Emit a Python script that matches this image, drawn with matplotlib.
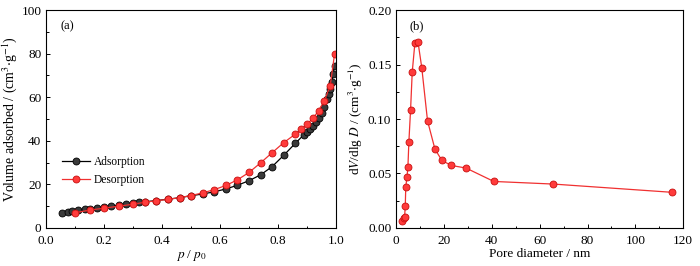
import numpy as np
import matplotlib
matplotlib.use("Agg")
import matplotlib.pyplot as plt
from matplotlib.ticker import MultipleLocator

plt.rcParams['font.family'] = ['Liberation Serif', 'DejaVu Serif']
plt.rcParams['mathtext.fontset'] = 'stix'

# ---- (a) N2 isotherm ----
ads_p = [0.055, 0.075, 0.09, 0.11, 0.135, 0.15, 0.175, 0.2, 0.225, 0.25, 0.275,
         0.3, 0.32, 0.34, 0.38, 0.42, 0.46, 0.5, 0.54, 0.58, 0.62, 0.66, 0.7,
         0.74, 0.78, 0.82, 0.86, 0.89, 0.9, 0.91, 0.92, 0.93, 0.94, 0.95, 0.96,
         0.97, 0.975, 0.98, 0.985, 0.99, 0.995]
ads_v = [6.9, 7.3, 7.7, 8.2, 8.6, 8.9, 9.3, 9.7, 10.1, 10.5, 10.9,
         11.3, 11.7, 12.0, 12.6, 13.2, 13.9, 14.8, 15.6, 16.6, 17.9, 19.6, 21.7,
         24.4, 28.2, 33.4, 38.9, 42.9, 44.0, 45.3, 46.8, 48.5, 50.5, 52.8, 55.5,
         59.0, 61.5, 64.0, 67.0, 70.5, 74.5]
des_p = [0.1, 0.15, 0.2, 0.25, 0.3, 0.34, 0.38, 0.42, 0.46, 0.5, 0.54, 0.58,
         0.62, 0.66, 0.7, 0.74, 0.78, 0.82, 0.86, 0.88, 0.9, 0.92, 0.94, 0.96,
         0.98, 0.995]
des_v = [7.0, 8.2, 9.1, 10.0, 10.9, 11.8, 12.5, 13.1, 13.9, 14.9, 16.1, 17.6,
         19.5, 22.1, 25.5, 29.9, 34.6, 39.2, 43.1, 45.3, 47.6, 50.3, 53.8, 58.5,
         65.3, 79.8]

# ---- (b) pore size distribution ----
pore_d = [2.4, 3.1, 3.5, 3.8, 4.0, 4.5, 4.9, 5.3, 6.0, 6.7, 7.8, 9.1, 10.7,
          13.1, 16.2, 19.1, 23.0, 29.2, 40.8, 65.7, 115.5]
dv_dlgd = [0.006, 0.009, 0.0098, 0.0205, 0.0376, 0.0467, 0.056, 0.079, 0.108,
           0.143, 0.1695, 0.171, 0.147, 0.0983, 0.0724, 0.062, 0.0574, 0.055,
           0.0427, 0.0403, 0.0327]

fig = plt.figure(figsize=(7, 2.66), dpi=100)
ax1 = fig.add_axes([0.066, 0.143, 0.414, 0.819])
ax2 = fig.add_axes([0.566, 0.143, 0.410, 0.819])

black_kw = dict(color="black", lw=0.9, marker="o", ms=5,
                mfc="#3a3a3a", mec="black", mew=0.6)
red_kw = dict(color="#f03030", lw=0.9, marker="o", ms=5,
              mfc="#ff3b3b", mec="#c81010", mew=0.6)

ax1.plot(ads_p, ads_v, label="Adsorption", **black_kw)
ax1.plot(des_p, des_v, label="Desorption", **red_kw)
ax1.set_xlim(0, 1.0)
ax1.set_ylim(0, 100)
ax1.xaxis.set_major_locator(MultipleLocator(0.2))
ax1.xaxis.set_minor_locator(MultipleLocator(0.1))
ax1.yaxis.set_major_locator(MultipleLocator(20))
ax1.yaxis.set_minor_locator(MultipleLocator(10))
ax1.set_xlabel("$p$ / $p_0$", fontsize=9.5, labelpad=1)
ax1.set_ylabel("Volume adsorbed / (cm$^3$$\\cdot$g$^{-1}$)", fontsize=10, labelpad=2)
ax1.text(0.05, 0.91, "(a)", transform=ax1.transAxes, fontsize=9)
ax1.legend(loc="lower left", bbox_to_anchor=(0.04, 0.17), frameon=False,
           fontsize=8.3, handlelength=2.4, handletextpad=0.3, labelspacing=0.55,
           borderaxespad=0)

ax2.plot(pore_d, dv_dlgd, **red_kw)
ax2.set_xlim(0, 120)
ax2.set_ylim(0, 0.20)
ax2.xaxis.set_major_locator(MultipleLocator(20))
ax2.xaxis.set_minor_locator(MultipleLocator(10))
ax2.yaxis.set_major_locator(MultipleLocator(0.05))
ax2.yaxis.set_minor_locator(MultipleLocator(0.025))
ax2.set_xlabel("Pore diameter / nm", fontsize=9.5, labelpad=1)
ax2.set_ylabel("d$V$/dlg $D$ / (cm$^3$$\\cdot$g$^{-1}$)", fontsize=9.5, labelpad=2)
ax2.text(0.045, 0.91, "(b)", transform=ax2.transAxes, fontsize=9)

for ax in (ax1, ax2):
    ax.tick_params(which="both", direction="in", labelsize=9.5, width=0.7)
    ax.tick_params(which="major", length=3)
    ax.tick_params(which="minor", length=1.8)
    ax.tick_params(axis="x", which="major", pad=5)
    for s in ax.spines.values():
        s.set_linewidth(0.8)
ax1.yaxis.set_major_formatter(plt.FormatStrFormatter("%d"))
ax1.xaxis.set_major_formatter(plt.FormatStrFormatter("%.1f"))
ax2.yaxis.set_major_formatter(plt.FormatStrFormatter("%.2f"))

fig.savefig("out.png", dpi=100)
